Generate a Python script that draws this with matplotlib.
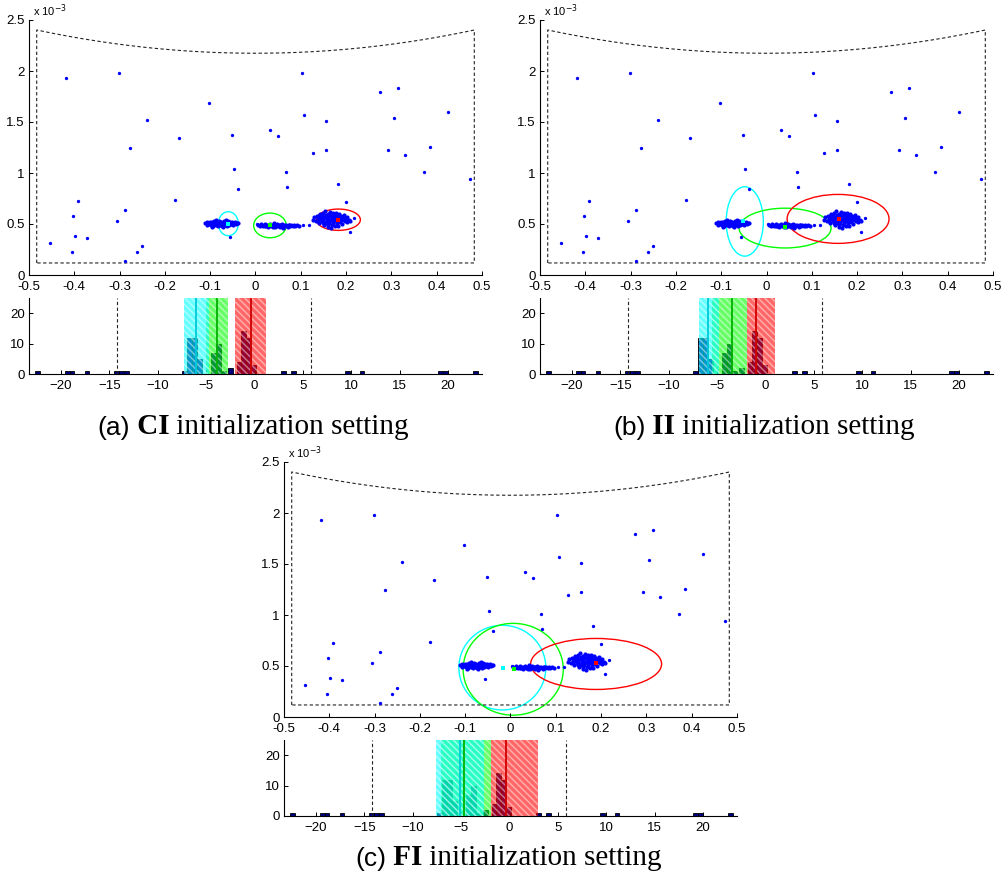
import numpy as np
import matplotlib
matplotlib.use("Agg")
import matplotlib.pyplot as plt
from matplotlib.patches import Ellipse, Rectangle
from matplotlib.ticker import FormatStrFormatter

plt.rcParams["font.family"] = ["Liberation Sans", "DejaVu Sans"]
plt.rcParams["hatch.linewidth"] = 1.1

# isolated samples, x and y (y in units of 1e-3)
outliers = [
    (-0.418, 1.935), (-0.301, 1.981), (-0.239, 1.521), (-0.278, 1.243), (-0.168, 1.341),
    (-0.102, 1.687), (-0.052, 1.371), (-0.047, 1.041), (-0.038, 0.839), (-0.177, 0.738),
    (-0.392, 0.728), (-0.403, 0.581), (-0.287, 0.636), (-0.305, 0.532), (-0.399, 0.382),
    (-0.373, 0.359), (-0.454, 0.310), (-0.404, 0.222), (-0.262, 0.222), (-0.250, 0.281),
    (-0.289, 0.140), (-0.057, 0.369), (0.102, 1.978), (0.032, 1.426), (0.050, 1.367),
    (0.108, 1.567), (0.156, 1.514), (0.126, 1.195), (0.156, 1.221), (0.068, 1.008),
    (0.069, 0.865), (0.183, 0.894), (0.200, 0.718), (0.209, 0.418), (0.218, 0.558),
    (0.275, 1.792), (0.314, 1.838), (0.305, 1.544), (0.424, 1.596), (0.293, 1.221),
    (0.331, 1.181), (0.385, 1.253), (0.373, 1.005), (0.473, 0.937), (0.105, 0.486),
    (0.119, 0.490), (0.003, 0.499),
]

cluster_a = [
    (-0.112, 0.505), (-0.108, 0.515), (-0.106, 0.495), (-0.103, 0.508), (-0.100, 0.520),
    (-0.099, 0.490), (-0.097, 0.503), (-0.095, 0.515), (-0.094, 0.483), (-0.092, 0.497),
    (-0.091, 0.525), (-0.089, 0.508), (-0.088, 0.488), (-0.086, 0.518), (-0.085, 0.500),
    (-0.083, 0.478), (-0.082, 0.512), (-0.080, 0.528), (-0.079, 0.492), (-0.077, 0.505),
    (-0.076, 0.520), (-0.074, 0.483), (-0.073, 0.498), (-0.071, 0.513), (-0.070, 0.530),
    (-0.068, 0.490), (-0.067, 0.505), (-0.065, 0.518), (-0.064, 0.480), (-0.062, 0.497),
    (-0.061, 0.525), (-0.059, 0.508), (-0.058, 0.490), (-0.056, 0.515), (-0.054, 0.500),
    (-0.052, 0.520), (-0.050, 0.492), (-0.048, 0.508), (-0.046, 0.517), (-0.044, 0.500),
    (-0.041, 0.510), (-0.038, 0.505), (-0.087, 0.535), (-0.066, 0.540), (-0.096, 0.475),
    (-0.072, 0.470), (-0.102, 0.500), (-0.093, 0.508), (-0.084, 0.493), (-0.078, 0.515),
    (-0.069, 0.500), (-0.063, 0.510), (-0.057, 0.500), (-0.081, 0.503), (-0.090, 0.515),
]

cluster_b = [
    (0.006, 0.493), (0.010, 0.485), (0.013, 0.498), (0.016, 0.478), (0.018, 0.490),
    (0.021, 0.503), (0.023, 0.483), (0.026, 0.495), (0.028, 0.472), (0.030, 0.487),
    (0.033, 0.500), (0.035, 0.480), (0.037, 0.492), (0.040, 0.505), (0.042, 0.475),
    (0.044, 0.488), (0.047, 0.498), (0.049, 0.482), (0.051, 0.493), (0.054, 0.470),
    (0.056, 0.486), (0.058, 0.500), (0.061, 0.478), (0.063, 0.490), (0.066, 0.483),
    (0.068, 0.495), (0.071, 0.474), (0.073, 0.487), (0.076, 0.480), (0.079, 0.492),
    (0.082, 0.476), (0.085, 0.486), (0.088, 0.480), (0.092, 0.488), (0.095, 0.478),
    (0.039, 0.468), (0.060, 0.465), (0.020, 0.483), (0.031, 0.493), (0.045, 0.480),
    (0.053, 0.488), (0.064, 0.480), (0.074, 0.493),
]

cluster_c = [
    (0.126, 0.540), (0.130, 0.565), (0.133, 0.525), (0.136, 0.580), (0.138, 0.548),
    (0.140, 0.505), (0.142, 0.595), (0.144, 0.560), (0.146, 0.530), (0.147, 0.578),
    (0.149, 0.610), (0.150, 0.545), (0.152, 0.490), (0.153, 0.520), (0.155, 0.588),
    (0.156, 0.565), (0.158, 0.535), (0.159, 0.600), (0.160, 0.470), (0.161, 0.550),
    (0.163, 0.510), (0.164, 0.578), (0.165, 0.620), (0.167, 0.540), (0.168, 0.495),
    (0.169, 0.565), (0.171, 0.595), (0.172, 0.525), (0.173, 0.555), (0.175, 0.480),
    (0.176, 0.585), (0.177, 0.610), (0.179, 0.540), (0.180, 0.505), (0.181, 0.570),
    (0.183, 0.530), (0.184, 0.595), (0.186, 0.555), (0.187, 0.515), (0.189, 0.575),
    (0.190, 0.540), (0.192, 0.500), (0.193, 0.560), (0.195, 0.585), (0.197, 0.530),
    (0.199, 0.550), (0.201, 0.515), (0.203, 0.570), (0.206, 0.540), (0.209, 0.525),
    (0.166, 0.458), (0.154, 0.630), (0.182, 0.482), (0.141, 0.575), (0.174, 0.540),
    (0.162, 0.590), (0.185, 0.545), (0.157, 0.512), (0.145, 0.545), (0.151, 0.565),
    (0.158, 0.555), (0.163, 0.530), (0.168, 0.580), (0.170, 0.510), (0.176, 0.560),
    (0.178, 0.525), (0.183, 0.580), (0.188, 0.535), (0.193, 0.545), (0.160, 0.495),
    (0.148, 0.512), (0.172, 0.612), (0.196, 0.565), (0.139, 0.530),
]

# admissible region: x extent, bottom edge, top edge at corners and at x = 0
region_x = 0.483
region_bottom = 0.118
region_top_corner = 2.402
region_top_mid = 2.174

# histogram of the projected samples
hist_centers = [-22.4, -19.35, -18.85, -17.3, -14.25, -13.75, -13.25, -7.2, -6.7, -6.2,
                -5.7, -4.2, -3.7, -3.2, -2.45, -1.6, -1.1, -0.6, -0.1, 3.0, 4.0, 9.6,
                11.1, 19.25, 19.75, 22.8]
hist_counts = [1, 1, 1, 1, 1, 1, 1, 1, 12, 12, 5, 7, 10, 1, 2, 4, 14, 12, 3, 1, 1, 1,
               1, 1, 1, 1]
hist_bin = 0.5
hist_limits = [-14.2, 5.85]

comp_colors = ["#00ffff", "#00ff00", "#ff0000"]
comp_lines = ["#00c8d8", "#00b000", "#d00000"]
# bands are stacked green, cyan, red so that overlaps read as teal
band_order = [1, 0, 2]

# per setting: component ellipses (x, y, width, height), means, histogram bands (lo, hi, mid)
ellipses_ci = [(-0.060, 0.503, 0.044, 0.235), (0.032, 0.486, 0.072, 0.242), (0.183, 0.542, 0.097, 0.209)]
means_ci = [(-0.060, 0.499), (0.031, 0.490), (0.183, 0.539)]
bands_ci = [(-7.29, -4.75, -6.0), (-5.06, -2.71, -3.85), (-1.98, 1.15, -0.38)]

ellipses_ii = [(-0.048, 0.525, 0.082, 0.68), (0.041, 0.46, 0.203, 0.39), (0.158, 0.55, 0.225, 0.48)]
means_ii = [(-0.051, 0.525), (0.040, 0.47), (0.159, 0.552)]
bands_ii = [(-6.85, -4.79, -5.9), (-5.55, -1.95, -3.5), (-1.95, 0.96, -0.98)]

ellipses_fi = [(-0.018, 0.484, 0.192, 0.83), (0.006, 0.468, 0.221, 0.90), (0.189, 0.52, 0.289, 0.50)]
means_fi = [(-0.017, 0.484), (0.007, 0.474), (0.188, 0.526)]
bands_fi = [(-7.6, -2.6, -5.1), (-7.1, -1.9, -4.7), (-1.9, 2.9, -0.35)]

x_ticks = [-0.5, -0.4, -0.3, -0.2, -0.1, 0, 0.1, 0.2, 0.3, 0.4, 0.5]
y_ticks = [0, 0.5, 1, 1.5, 2, 2.5]
h_xticks = [-20, -15, -10, -5, 0, 5, 10, 15, 20]
h_yticks = [0, 10, 20]

W, H = 1003, 884
fig = plt.figure(figsize=(W / 100, H / 100), dpi=100)


def px_axes(left, top, right, bottom):
    return fig.add_axes([left / W, 1 - bottom / H, (right - left) / W, (bottom - top) / H])


def style(ax):
    for s in ["top", "right"]:
        ax.spines[s].set_visible(False)
    for s in ["left", "bottom"]:
        ax.spines[s].set_linewidth(0.8)
    ax.tick_params(direction="in", length=3, width=0.7, labelsize=9.5, pad=3)
    ax.tick_params(axis="x", pad=4)


def panel(left, top, ellipses, means, bands, tag, key, cap_x, cap_y):
    right = left + 453
    ax = px_axes(left, top, right, top + 255)
    style(ax)
    dash = (0, (3, 2.2))
    xs = np.linspace(-region_x, region_x, 200)
    top_edge = region_top_mid + (region_top_corner - region_top_mid) * (xs / region_x) ** 2
    bx = np.concatenate([[-region_x, -region_x], xs, [region_x, region_x, -region_x]])
    by = np.concatenate([[region_bottom, region_top_corner], top_edge,
                         [region_top_corner, region_bottom, region_bottom]])
    ax.plot(bx, by, color="#222222", lw=0.8, linestyle=dash)
    p = np.array(outliers)
    ax.plot(p[:, 0], p[:, 1], "o", color="#0000ff", ms=2.4, mew=0)
    for pts in [cluster_a, cluster_b, cluster_c]:
        p = np.array(pts)
        ax.plot(p[:, 0], p[:, 1], "o", color="#0000ff", ms=3.0, mew=0)
    for (ex, ey, ew, eh), (mx, my), c in zip(ellipses, means, comp_colors):
        ax.add_patch(Ellipse((ex, ey), ew, eh, fill=False, edgecolor=c, lw=1.0))
        ax.plot(mx, my, "s", color=c, ms=3, mew=0)
    ax.set_xlim(-0.5, 0.5)
    ax.set_ylim(0, 2.5)
    ax.set_xticks(x_ticks)
    ax.set_yticks(y_ticks)
    ax.xaxis.set_major_formatter(FormatStrFormatter("%g"))
    ax.yaxis.set_major_formatter(FormatStrFormatter("%g"))
    ax.text(0.008, 1.005, r"x 10$^{-3}$", transform=ax.transAxes, fontsize=8,
            va="bottom", ha="left")

    hx = px_axes(left, top + 278, right, top + 354)
    style(hx)
    hx.bar(hist_centers, hist_counts, width=hist_bin, color="#000080",
           edgecolor="black", lw=0.6, zorder=1)
    for i in band_order:
        lo, hi, mid = bands[i]
        rgb = matplotlib.colors.to_rgb(comp_colors[i])
        hx.add_patch(Rectangle((lo, 0), hi - lo, 25, facecolor=rgb + (0.6,),
                               edgecolor=(1, 1, 1, 0.45), lw=0, hatch="\\\\\\\\\\",
                               zorder=2))
        hx.plot([mid, mid], [0, 25], color=comp_lines[i], lw=1.3, zorder=3)
    for v in hist_limits:
        hx.plot([v, v], [0, 25], color="#222222", lw=0.8, linestyle=dash, zorder=4)
    hx.set_xlim(-23.3, 23.5)
    hx.set_ylim(0, 25)
    hx.set_xticks(h_xticks)
    hx.set_yticks(h_yticks)

    t1 = hx.annotate(tag, xy=(cap_x, cap_y), xycoords="figure pixels", fontsize=19,
                     va="baseline", ha="left", annotation_clip=False)
    t2 = hx.annotate(" " + key, xy=(1, 0), xycoords=t1, fontsize=21, fontweight="bold",
                     family="Liberation Serif", va="bottom", ha="left", annotation_clip=False)
    hx.annotate(" initialization setting", xy=(1, 0), xycoords=t2, fontsize=21,
                family="Liberation Serif", va="bottom", ha="left", annotation_clip=False)


panel(29, 20, ellipses_ci, means_ci, bands_ci, "(a)", "CI", 97, H - 435)
panel(540, 20, ellipses_ii, means_ii, bands_ii, "(b)", "II", 613, H - 435)
panel(284, 462, ellipses_fi, means_fi, bands_fi, "(c)", "FI", 355, H - 866)

fig.savefig("out.png", dpi=100)
